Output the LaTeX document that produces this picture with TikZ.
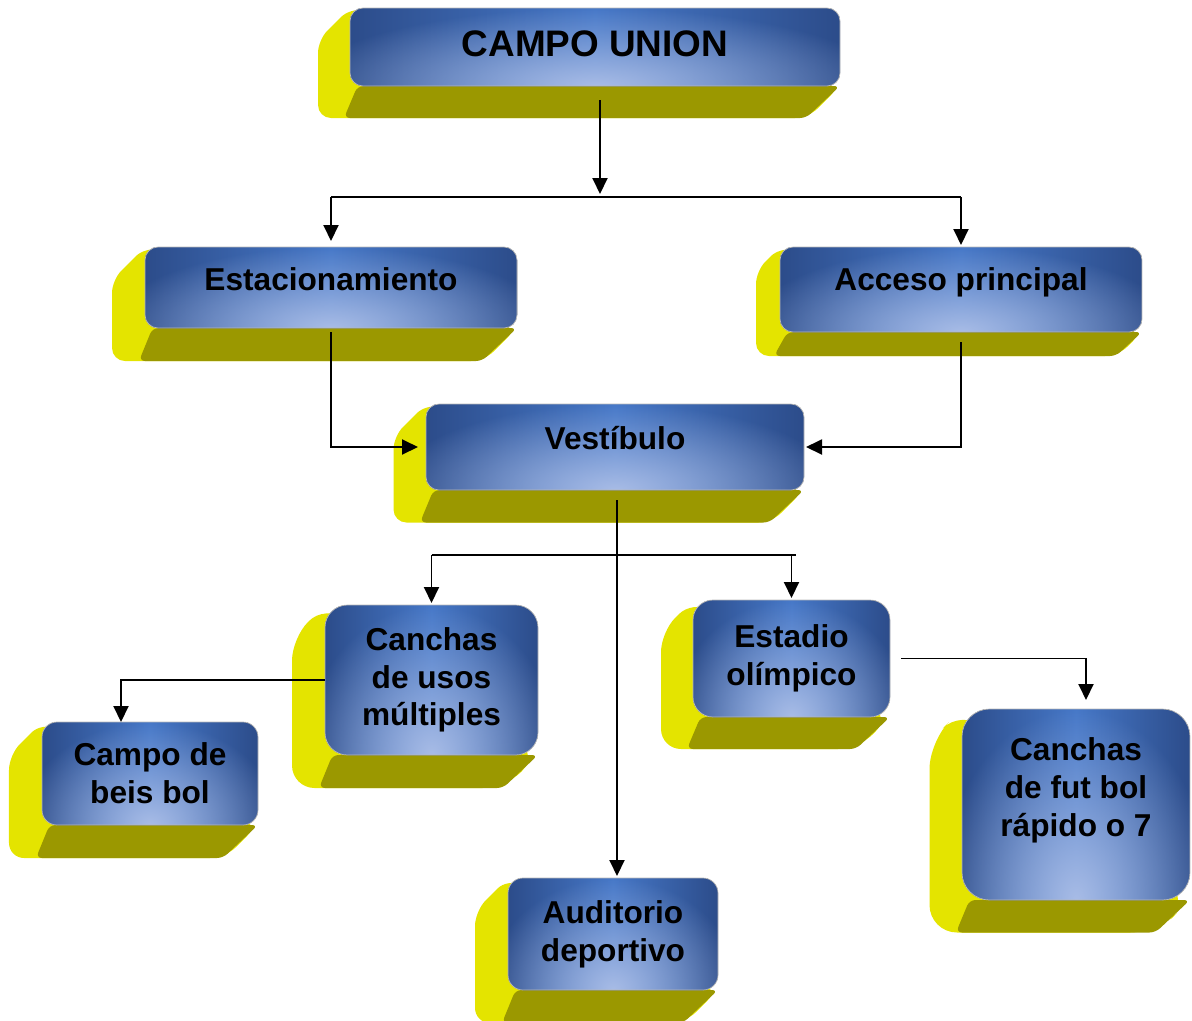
\documentclass[tikz,border=0pt]{standalone}
\usepackage{fontspec}
\setmainfont{Liberation Sans}
\usetikzlibrary{arrows.meta,backgrounds,calc,fadings}

\definecolor{blueDark}{RGB}{44,76,138}
\definecolor{blueMid}{RGB}{70,120,200}
\definecolor{blueHi}{RGB}{168,188,230}
\definecolor{sideYellow}{RGB}{228,228,0}
\definecolor{sideOlive}{RGB}{155,152,0}

\tikzfading[name=glow, inner color=transparent!0, outer color=transparent!100]

% yellow and olive faces behind a box: #1 node, #2 depth, #3 corner radius
\newcommand{\sidefaces}[3]{%
  \fill[sideYellow, rounded corners=#3cm]
    (#1.north west) -- ++(-#2,-#2) -- ([shift={(-#2,-#2)}]#1.south west)
    -- ([shift={(-#2,-#2)}]#1.south east) -- (#1.south east) -- cycle;
  \fill[sideOlive, rounded corners=0.12cm]
    ([xshift=0.15cm]#1.south west) -- ([shift={(-0.12,-#2)}]#1.south west)
    -- ([shift={(-#2-0.04,-#2)}]#1.south east) -- (#1.south east) -- cycle;
}

\begin{document}
\begin{tikzpicture}[
            frontbox/.style={rectangle, rounded corners=#1, draw=gray!55,
            line width=0.4pt, inner sep=0pt, outer sep=0pt, align=center,
            font=\bfseries\fontsize{18}{21.5}\selectfont,
            path picture={
              \fill[left color=blueDark, right color=blueDark, middle color=blueMid]
                (path picture bounding box.south west) rectangle
                (path picture bounding box.north east);
              \fill[blueHi, path fading=glow]
                let \p1=(path picture bounding box.south west),
                    \p2=(path picture bounding box.north east) in
                ({\x1-0.1*(\x2-\x1)},{2*\y1-\y2}) rectangle ({\x2+0.1*(\x2-\x1)},\y2);
            }},
            frontbox/.default=0.26cm,
            link/.style={line width=1.1pt},
            branch/.style={line width=1.1pt, -{Triangle[length=0.32cm,width=0.3cm]}}
            ]

            \useasboundingbox (0,0) rectangle (23.84,-20.4);

            % boxes
            \node[frontbox, minimum width=9.8cm, minimum height=1.56cm,
                  text height=0.53cm, text depth=0.14cm,
                  font=\bfseries\fontsize{21}{25}\selectfont]
                  (campo) at (11.9,-0.94) {CAMPO UNION};
            \node[frontbox, minimum width=7.44cm, minimum height=1.62cm,
                  text height=0.46cm, text depth=0.34cm]
                  (estac) at (6.62,-5.75) {Estacionamiento};
            \node[frontbox, minimum width=7.24cm, minimum height=1.7cm,
                  text height=0.46cm, text depth=0.42cm]
                  (acceso) at (19.22,-5.79) {Acceso principal};
            \node[frontbox, minimum width=7.56cm, minimum height=1.72cm,
                  text height=0.46cm, text depth=0.38cm]
                  (vestib) at (12.3,-8.94) {Vestíbulo};
            \node[frontbox=0.45cm, minimum width=4.26cm, minimum height=3.0cm]
                  (usos) at (8.63,-13.6) {Canchas\\de usos\\múltiples};
            \node[frontbox=0.4cm, minimum width=3.94cm, minimum height=2.34cm]
                  (estadio) at (15.83,-13.17) {Estadio\\olímpico};
            \node[frontbox=0.3cm, minimum width=4.32cm, minimum height=2.06cm]
                  (beis) at (3.0,-15.47) {Campo de\\beis bol};
            \node[frontbox=0.3cm, minimum width=4.2cm, minimum height=2.24cm]
                  (audit) at (12.26,-18.68) {Auditorio\\deportivo};
            \node[frontbox=0.55cm, minimum width=4.56cm, minimum height=3.82cm,
                  text depth=0.71cm]
                  (futbol) at (21.52,-16.09) {Canchas\\de fut bol\\rápido o 7};

            % 3d sides
            \begin{pgfonlayer}{background}
              \sidefaces{campo}{0.64}{0.26}
              \sidefaces{estac}{0.66}{0.26}
              \sidefaces{acceso}{0.48}{0.26}
              \sidefaces{vestib}{0.65}{0.26}
              \sidefaces{usos}{0.66}{0.45}
              \sidefaces{estadio}{0.64}{0.4}
              \sidefaces{beis}{0.66}{0.3}
              \sidefaces{audit}{0.66}{0.3}
              \sidefaces{futbol}{0.65}{0.55}
            \end{pgfonlayer}

            % connectors
            \coordinate (split1) at (12.0,-3.94);
            \coordinate (split2) at (12.34,-11.1);

            \draw[branch] ([xshift=0.1cm,yshift=-0.28cm]campo.south) -- ([yshift=0.06cm]split1);
            \draw[link] (estac.north |- split1) -- (acceso.north |- split1);
            \draw[branch] (estac.north |- split1) -- ([yshift=0.12cm]estac.north);
            \draw[branch] (acceso.north |- split1) -- ([yshift=0.04cm]acceso.north);

            \draw[branch] ([yshift=-0.08cm]estac.south) -- (estac.south |- vestib.west)
                -- ([xshift=-0.16cm]vestib.west);
            \draw[branch] ([yshift=-0.2cm]acceso.south) -- (acceso.south |- vestib.east)
                -- ([xshift=0.04cm]vestib.east);

            \draw[branch] ([xshift=0.04cm,yshift=-0.2cm]vestib.south)
                -- ([xshift=0.04cm,yshift=0.04cm]vestib.south |- audit.north);
            \draw[link] (usos.north |- split2) -- ([xshift=0.08cm]estadio.north |- split2);
            \draw[branch] (usos.north |- split2) -- ([yshift=0.04cm]usos.north);
            \draw[branch] (estadio.north |- split2) -- ([yshift=0.04cm]estadio.north);

            \draw[branch] (usos.west) -| ([xshift=-0.58cm]beis.north);
            \draw[branch] ([xshift=0.22cm]estadio.east) -| ([xshift=0.2cm,yshift=0.18cm]futbol.north);

        \end{tikzpicture}
\end{document}
